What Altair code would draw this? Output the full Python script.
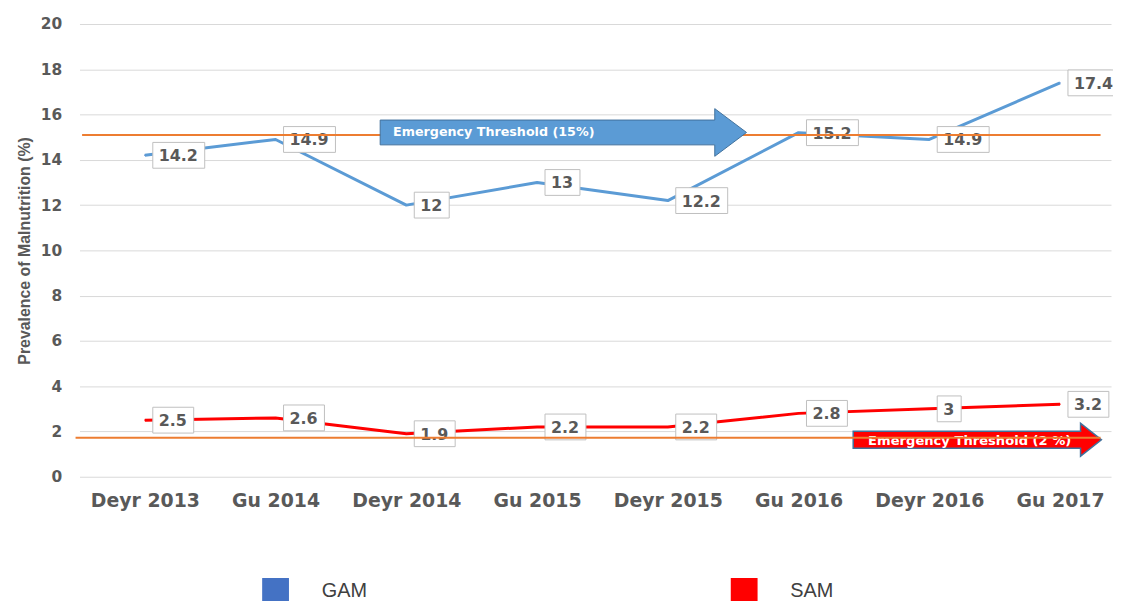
import altair as alt
import pandas as pd

# ---- data ----
categories = ["Deyr 2013", "Gu 2014", "Deyr 2014", "Gu 2015",
              "Deyr 2015", "Gu 2016", "Deyr 2016", "Gu 2017"]
gam_values = [14.2, 14.9, 12, 13, 12.2, 15.2, 14.9, 17.4]
sam_values = [2.5, 2.6, 1.9, 2.2, 2.2, 2.8, 3, 3.2]
series_names = ["GAM", "SAM"]

threshold_values = [15.1, 1.72]
threshold_x_start = [-0.48, -0.53]
threshold_x_end = [7.31, 7.31]

arrow_labels = ["Emergency Threshold (15%)", "Emergency Threshold (2 %)"]
arrow_x = [1.80, 5.418]
arrow_y = [15.21, 1.634]

y_ticks = list(range(0, 21, 2))

# ---- tables ----
rows = []
for i, c in enumerate(categories):
    rows.append({"idx": i, "cat": c, "value": gam_values[i], "series": "GAM"})
for i, c in enumerate(categories):
    rows.append({"idx": i, "cat": c, "value": sam_values[i], "series": "SAM"})
df = pd.DataFrame(rows)

thr = pd.DataFrame({"y": threshold_values, "x0": threshold_x_start, "x1": threshold_x_end})
arr = pd.DataFrame({"label": arrow_labels, "x": arrow_x, "y": arrow_y})
blue_arr = arr.iloc[[0]]
red_arr = arr.iloc[[1]]

GREY = "#595959"
label_expr = "[" + ",".join("'%s'" % c for c in categories) + "][datum.value]"

x_scale = alt.Scale(domain=[-0.5, 7.39], nice=False, zero=False)
y_scale = alt.Scale(domain=[0, 20], nice=False)

x_axis = alt.Axis(values=list(range(len(categories))), labelExpr=label_expr, title=None,
                  grid=False, domain=False, ticks=False, labelFont="DejaVu Sans",
                  labelFontWeight="bold", labelFontSize=19, labelColor=GREY,
                  labelPadding=15)
y_axis = alt.Axis(values=y_ticks, title="Prevalence of Malnutrition (%)", grid=True,
                  gridColor="#d9d9d9", gridWidth=1, domain=False, ticks=False,
                  labelFont="DejaVu Sans", labelFontWeight="bold", labelFontSize=15.5,
                  labelColor=GREY, labelPadding=18, titleFont="Liberation Sans",
                  titleFontWeight="bold", titleFontSize=16, titleColor=GREY,
                  titlePadding=8)

X = alt.X("idx:Q", scale=x_scale, axis=x_axis)
Y = alt.Y("value:Q", scale=y_scale, axis=y_axis)

base = alt.Chart(df)

# legend carrier: tiny squares hidden under the lines
legend_layer = base.mark_square(size=2).encode(
    x=X, y=Y,
    fill=alt.Fill("series:N", scale=alt.Scale(domain=series_names, range=["#4472c4", "#ff0000"]),
                  legend=alt.Legend(title=None, orient="none", direction="horizontal",
                                    legendX=184, legendY=558, padding=0,
                                    symbolType="square", symbolSize=729, symbolOpacity=1,
                                    symbolStrokeWidth=0, labelFont="Liberation Sans",
                                    labelFontSize=20, labelColor="#404040",
                                    labelOffset=33, columnPadding=366)),
)

lines = base.mark_line(strokeWidth=3, strokeJoin="round").encode(
    x="idx:Q", y="value:Q",
    color=alt.Color("series:N", scale=alt.Scale(domain=series_names, range=["#5b9bd5", "#ff0000"]),
                    legend=None),
    order="idx:Q",
)

labelled = base.transform_calculate(
    label="'' + datum.value"
).transform_calculate(
    nd="indexof(datum.label, '.') >= 0 ? 1 : 0"
).transform_calculate(
    w="13 + 11.1 * (length(datum.label) - datum.nd) + 6 * datum.nd"
).transform_calculate(
    box="'M8,-13H' + (8 + datum.w) + 'V13H8Z'"
)

boxes = labelled.mark_point(filled=True, fill="white", stroke="#bfbfbf", strokeWidth=1,
                            size=4, opacity=1).encode(
    x="idx:Q", y="value:Q",
    shape=alt.Shape("box:N", scale=None, legend=None),
)

texts = labelled.mark_text(align="left", baseline="middle", dx=14, dy=1,
                           font="DejaVu Sans", fontWeight="bold", fontSize=16,
                           color=GREY).encode(
    x="idx:Q", y="value:Q", text="label:N")

thr_lines = alt.Chart(thr).mark_rule(color="#ed7d31", strokeWidth=2).encode(
    x="x0:Q", x2="x1:Q", y="y:Q")

blue_arrow = alt.Chart(blue_arr).mark_point(
    shape="M0,-12.5H337V-24L369,0L337,24V12.5H0Z", size=4, filled=True,
    fill="#5b9bd5", stroke="#41719c", strokeWidth=1, opacity=1).encode(x="x:Q", y="y:Q")
blue_text = alt.Chart(blue_arr).mark_text(
    align="left", baseline="middle", dx=13, font="DejaVu Sans", fontWeight="bold",
    fontSize=12.8, color="white").encode(x="x:Q", y="y:Q", text="label:N")

red_arrow = alt.Chart(red_arr).mark_point(
    shape="M0,-8.5H229V-16.5L250,0L229,16.5V8.5H0Z", size=4, filled=True,
    fill="#ff0000", stroke="#41719c", strokeWidth=1.5, opacity=1).encode(x="x:Q", y="y:Q")
red_text = alt.Chart(red_arr).mark_text(
    align="left", baseline="middle", dx=15, dy=1, font="DejaVu Sans", fontWeight="bold",
    fontSize=13.2, color="white").encode(x="x:Q", y="y:Q", text="label:N")

chart = alt.layer(
    legend_layer, red_arrow, red_text, lines, boxes, texts, thr_lines, blue_arrow, blue_text
).properties(
    width=1039, height=456,
    autosize=alt.AutoSizeParams(type="none"),
    padding={"left": 72, "top": 14, "right": 2, "bottom": 123},
).configure_view(stroke=None)

chart.save("out.html", embed_options={"renderer": "svg", "actions": False})
